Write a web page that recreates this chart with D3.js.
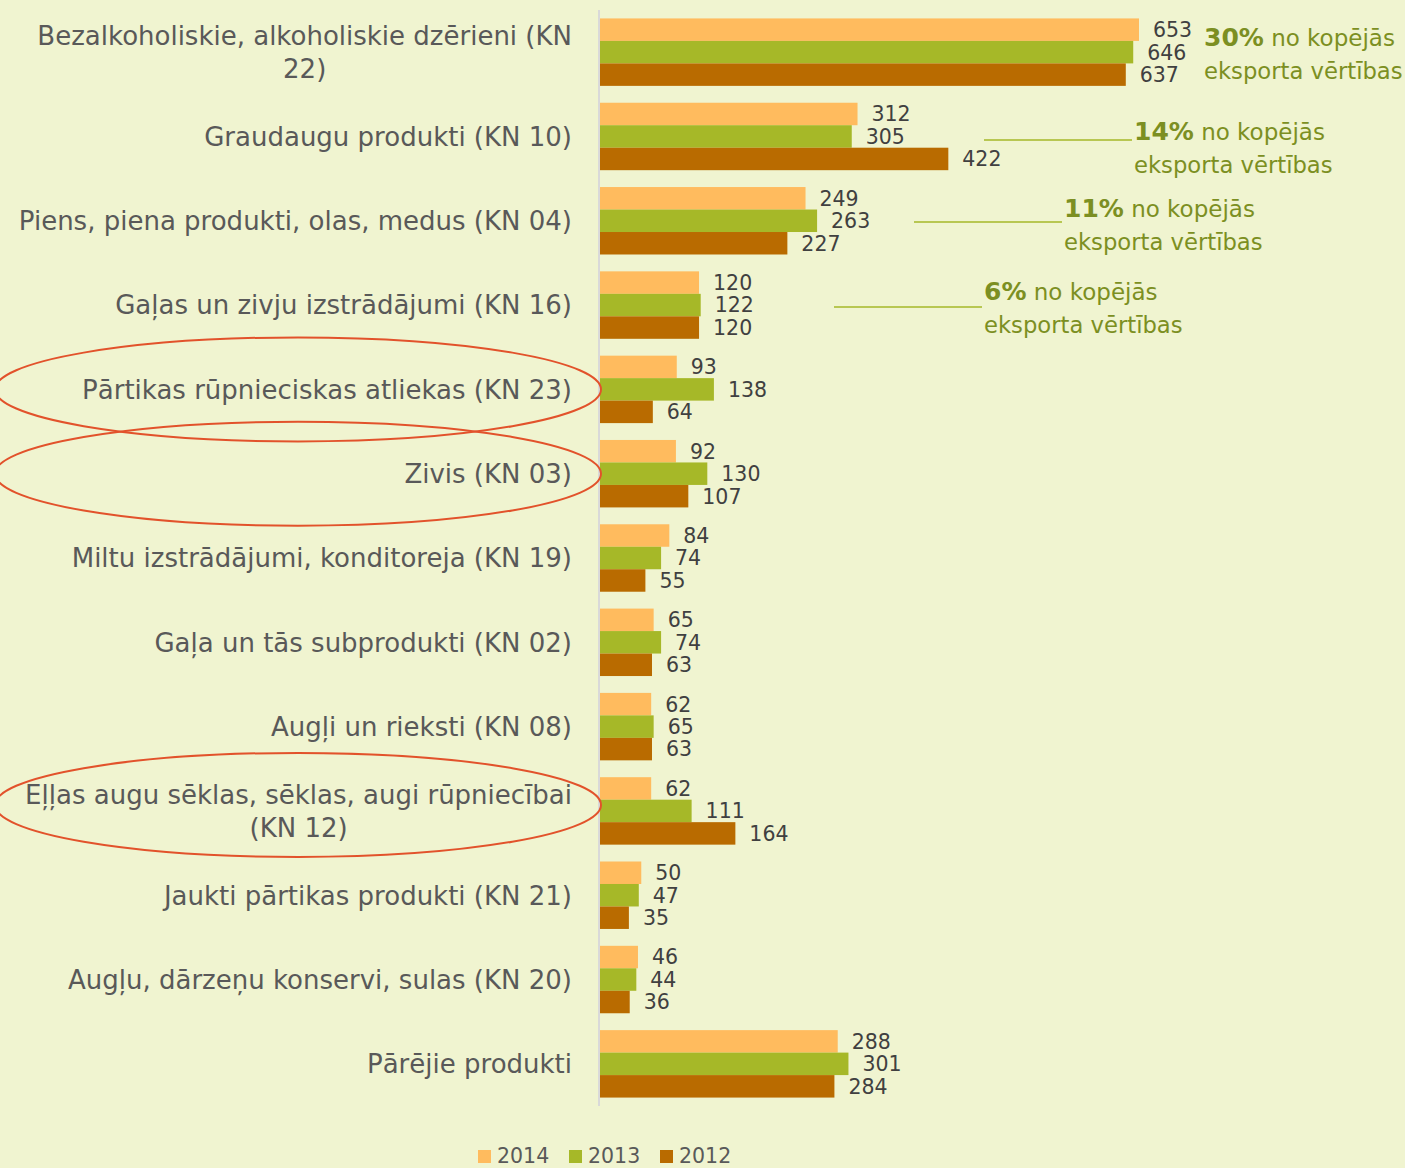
<!DOCTYPE html>
<html><head><meta charset="utf-8">
<script src="https://cdn.jsdelivr.net/npm/d3@7"></script>
<style>
html,body{margin:0;padding:0;background:#F0F4D0;}
svg{display:block;}
</style></head>
<body>
<svg id="chart" width="1405" height="1168"></svg>
<script>
const categories = [
  ["Bezalkoholiskie, alkoholiskie dzērieni (KN", "22)"],
  ["Graudaugu produkti (KN 10)"],
  ["Piens, piena produkti, olas, medus (KN 04)"],
  ["Gaļas un zivju izstrādājumi (KN 16)"],
  ["Pārtikas rūpnieciskas atliekas (KN 23)"],
  ["Zivis (KN 03)"],
  ["Miltu izstrādājumi, konditoreja (KN 19)"],
  ["Gaļa un tās subprodukti (KN 02)"],
  ["Augļi un rieksti (KN 08)"],
  ["Eļļas augu sēklas, sēklas, augi rūpniecībai", "(KN 12)"],
  ["Jaukti pārtikas produkti (KN 21)"],
  ["Augļu, dārzeņu konservi, sulas (KN 20)"],
  ["Pārējie produkti"]
];
const seriesNames = ["2014", "2013", "2012"];
const values2014 = [653, 312, 249, 120, 93, 92, 84, 65, 62, 62, 50, 46, 288];
const values2013 = [646, 305, 263, 122, 138, 130, 74, 74, 65, 111, 47, 44, 301];
const values2012 = [637, 422, 227, 120, 64, 107, 55, 63, 63, 164, 35, 36, 284];
const highlighted = [4, 5, 9];
const shareCategory = [0, 1, 2, 3];
const sharePct = ["30%", "14%", "11%", "6%"];
const shareRest = "no kopējās";
const shareLine2 = "eksporta vērtības";

const colors = ["#FFBB5E", "#A6B828", "#B96B00"];
const series = [values2014, values2013, values2012];
const FONT = "'DejaVu Sans', sans-serif";

const svg = d3.select("#chart");
svg.append("rect").attr("width", 1405).attr("height", 1168).attr("fill", "#F0F4D0");

const y = d3.scaleBand().domain(d3.range(categories.length)).range([10, 1106]).paddingInner(0.2).paddingOuter(0.1);
const x = d3.scaleLinear().domain([0, 653]).range([600, 1139]);
const ySub = d3.scaleBand().domain(d3.range(3)).range([0, y.bandwidth()]);

// bars
const g = svg.append("g");
series.forEach((vals, si) => {
  g.selectAll(null).data(vals).enter().append("rect")
    .attr("x", x(0))
    .attr("y", (d, i) => y(i) + ySub(si))
    .attr("width", d => x(d) - x(0))
    .attr("height", ySub.bandwidth())
    .attr("fill", colors[si]);
  g.selectAll(null).data(vals).enter().append("text")
    .attr("x", d => x(d) + 14)
    .attr("y", (d, i) => y(i) + ySub(si) + ySub.bandwidth() / 2)
    .attr("dy", "0.36em")
    .attr("font-family", FONT).attr("font-size", 20.5).attr("fill", "#404040")
    .text(d => d);
});

// axis line
svg.append("line").attr("x1", 599).attr("x2", 599).attr("y1", 10).attr("y2", 1106)
  .attr("stroke", "#D9D9D9").attr("stroke-width", 2);

// category labels
const labelRight = 572;
const catSize = 26;
categories.forEach((lines, i) => {
  const cy = y(i) + y.bandwidth() / 2;
  const lh = 33;
  const top = cy - (lines.length - 1) * lh / 2;
  const t0 = svg.append("text").attr("x", labelRight).attr("y", top).attr("dy", "0.36em")
    .attr("text-anchor", "end").attr("font-family", FONT).attr("font-size", catSize)
    .attr("fill", "#595959").text(lines[0]);
  if (lines.length > 1) {
    const w = t0.node().getComputedTextLength();
    svg.append("text").attr("x", labelRight - w / 2).attr("y", top + lh).attr("dy", "0.36em")
      .attr("text-anchor", "middle").attr("font-family", FONT).attr("font-size", catSize)
      .attr("fill", "#595959").text(lines[1]);
  }
});

// ellipses
highlighted.forEach(i => {
  svg.append("ellipse").attr("cx", 298).attr("cy", y(i) + y.bandwidth() / 2 - (categories[i].length > 1 ? 6 : 0))
    .attr("rx", 303).attr("ry", 52).attr("fill", "none")
    .attr("stroke", "#E2522B").attr("stroke-width", 2);
});

// share annotations
const annX = [1204, 1134, 1064, 984];
const annBase = [46, 140, 217, 300];
const lineY = [null, 140, 222, 307];
shareCategory.forEach((c, k) => {
  const t = svg.append("text").attr("x", annX[k]).attr("y", annBase[k])
    .attr("font-family", FONT).attr("font-size", 23).attr("fill", "#7C8F22");
  t.append("tspan").attr("font-weight", "bold").attr("font-size", 25).text(sharePct[k]);
  t.append("tspan").text(" " + shareRest);
  svg.append("text").attr("x", annX[k]).attr("y", annBase[k] + 33)
    .attr("font-family", FONT).attr("font-size", 22.7).attr("fill", "#7C8F22").text(shareLine2);
  if (lineY[k] !== null) {
    svg.append("line").attr("x1", annX[k] - 150).attr("x2", annX[k] - 2)
      .attr("y1", lineY[k]).attr("y2", lineY[k]).attr("stroke", "#A6B828").attr("stroke-width", 1.5);
  }
});

// legend
const legX = [478, 569, 660];
seriesNames.forEach((n, i) => {
  svg.append("rect").attr("x", legX[i]).attr("y", 1150).attr("width", 13).attr("height", 13).attr("fill", colors[i]);
  svg.append("text").attr("x", legX[i] + 19).attr("y", 1156).attr("dy", "0.36em")
    .attr("font-family", FONT).attr("font-size", 20.5).attr("fill", "#595959").text(n);
});
</script>
</body></html>
